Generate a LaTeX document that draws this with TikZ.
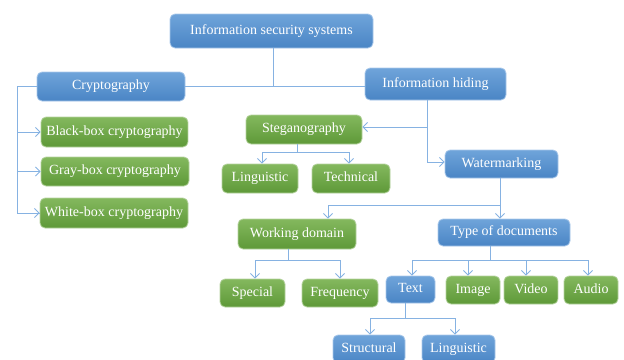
\documentclass[tikz,border=0pt]{standalone}
\usepackage{fontspec}
\setmainfont{Liberation Serif}
\usetikzlibrary{arrows.meta}

\definecolor{bluetop}{HTML}{6FA4DA}
\definecolor{bluebot}{HTML}{4A85C5}
\definecolor{blueedge}{HTML}{A9C8EA}
\definecolor{greentop}{HTML}{84B85E}
\definecolor{greenbot}{HTML}{5E9938}
\definecolor{greenedge}{HTML}{B5D39F}
\definecolor{linkcol}{HTML}{86B2E2}

\tikzset{
  box/.style={rounded corners=5pt, inner sep=0pt, text=white,
    font=\fontsize{14}{16}\selectfont, text height=9.5pt, text depth=3pt,
    line width=0.8pt},
  bluebox/.style={box, draw=blueedge, top color=bluetop, bottom color=bluebot},
  greenbox/.style={box, draw=greenedge, top color=greentop, bottom color=greenbot},
  link/.style={draw=linkcol, line width=0.9pt},
  arr/.style={link, -{Straight Barb[length=4.5pt,width=9pt,line width=0.9pt]}},
}

\begin{document}
\begin{tikzpicture}[x=1pt,y=-1pt]
\useasboundingbox (0,0) rectangle (624,359);
\clip (0,0) rectangle (624,359);

% top levels
\node[bluebox, minimum width=203pt, minimum height=34pt] (iss) at (271.5,31) {Information security systems};
\node[bluebox, minimum width=148pt, minimum height=29pt] (crypto) at (111,86.5) {Cryptography};
\node[bluebox, minimum width=141pt, minimum height=32pt] (hiding) at (435.5,84) {Information hiding};

% cryptography branch
\node[greenbox, minimum width=147pt, minimum height=30pt] (black) at (114.5,132) {Black-box cryptography};
\node[greenbox, minimum width=148pt, minimum height=29pt] (gray) at (115,171.5) {Gray-box cryptography};
\node[greenbox, minimum width=148pt, minimum height=30pt] (white) at (114,213) {White-box cryptography};

% information hiding branch
\node[greenbox, minimum width=116pt, minimum height=29pt] (steg) at (304,129.5) {Steganography};
\node[bluebox, minimum width=113pt, minimum height=28pt] (water) at (501.5,164) {Watermarking};
\node[greenbox, minimum width=76pt, minimum height=29pt] (sling) at (260,178.5) {Linguistic};
\node[greenbox, minimum width=78pt, minimum height=29pt] (tech) at (351,178.5) {Technical};

% watermarking branch
\node[greenbox, minimum width=118pt, minimum height=30pt] (work) at (297,234) {Working domain};
\node[bluebox, minimum width=132pt, minimum height=27pt] (types) at (504,232.5) {Type of documents};
\node[greenbox, minimum width=65pt, minimum height=28pt] (special) at (252.5,293) {Special};
\node[greenbox, minimum width=76pt, minimum height=28pt] (freq) at (340,293) {Frequency};
\node[bluebox, minimum width=49pt, minimum height=27pt] (text) at (410.5,289.5) {Text};
\node[greenbox, minimum width=54pt, minimum height=28pt] (image) at (473,290) {Image};
\node[greenbox, minimum width=54pt, minimum height=28pt] (video) at (531,290) {Video};
\node[greenbox, minimum width=54pt, minimum height=28pt] (audio) at (591,290) {Audio};
\node[bluebox, minimum width=72pt, minimum height=28pt] (struct) at (369,349) {Structural};
\node[bluebox, minimum width=73pt, minimum height=28pt] (tling) at (458.5,349) {Linguistic};

% root split
\draw[link] ([xshift=1.5pt]iss.south) -- ([xshift=1.5pt]iss.south |- crypto.east);
\draw[link] (crypto.east) -- (hiding.west |- crypto.east);

% cryptography bracket
\coordinate (cl) at (17,86.5);
\draw[link] (crypto.west) -- (cl) |- (white.west);
\draw[arr] (cl |- black.west) -- (black.west);
\draw[arr] (cl |- gray.west) -- (gray.west);
\draw[arr] (cl) |- (white.west);

% information hiding split
\coordinate (hd) at ([xshift=-8.5pt]hiding.south);
\draw[link] (hd) -- (hd |- 0,162);
\draw[arr] (hd |- 0,162) -- (water.west |- 0,162);
\draw[arr] (hd |- 0,127) -- (steg.east |- 0,127);

% steganography split
\coordinate (sb) at (297,152);
\draw[link] (sb |- steg.south) -- (sb);
\draw[arr] (sb) -| ([xshift=2pt]sling.north);
\draw[arr] (sb) -| ([xshift=-2pt]tech.north);

% watermarking split
\coordinate (wb) at (500,205);
\draw[link] (wb |- water.south) -- (wb);
\draw[arr] (wb) -- (wb |- types.north);
\draw[arr] (wb) -| ([xshift=31pt]work.north);

% working domain split
\coordinate (db) at (288,260);
\draw[link] (db |- work.south) -- (db);
\draw[arr] (db) -| ([xshift=2.5pt]special.north);
\draw[arr] (db) -| (freq.north);

% type of documents split
\coordinate (tb) at (490,260);
\draw[link] (tb |- types.south) -- (tb);
\draw[arr] (tb) -| ([xshift=1.5pt]text.north);
\draw[arr] (tb) -| ([xshift=-5pt]image.north);
\draw[arr] (tb) -| ([xshift=-5pt]video.north);
\draw[arr] (tb) -| ([xshift=-3pt]audio.north);

% text split
\coordinate (xb) at (405,318);
\draw[link] (xb |- text.south) -- (xb);
\draw[arr] (xb) -| ([xshift=1pt]struct.north);
\draw[arr] (xb) -| ([xshift=-3.5pt]tling.north);
\end{tikzpicture}
\end{document}
